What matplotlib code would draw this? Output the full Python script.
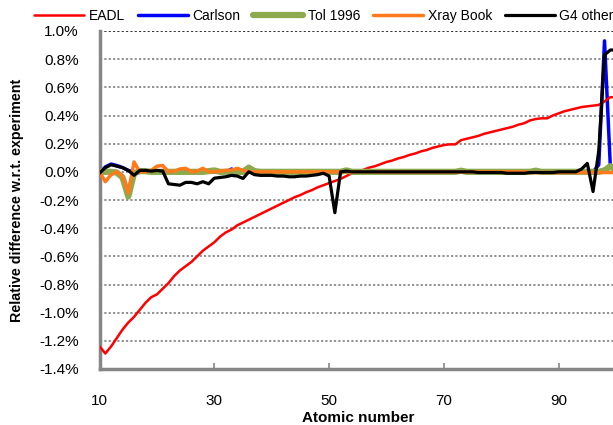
import matplotlib
matplotlib.use("Agg")
import matplotlib.pyplot as plt
from matplotlib.ticker import FixedLocator, FuncFormatter

plt.rcParams['font.family'] = ['Liberation Sans', 'DejaVu Sans']

atomic_number = list(range(10, 101))

eadl = [-1.24, -1.29, -1.24, -1.18, -1.12, -1.07, -1.03, -0.98, -0.93, -0.89,
        -0.87, -0.83, -0.79, -0.74, -0.70, -0.67, -0.64, -0.60, -0.56, -0.53,
        -0.50, -0.46, -0.43, -0.41, -0.38, -0.36, -0.34, -0.32, -0.30, -0.28,
        -0.26, -0.24, -0.22, -0.20, -0.18, -0.165, -0.145, -0.13, -0.11, -0.095,
        -0.08, -0.065, -0.05, -0.03, -0.01, 0.00, 0.015, 0.03, 0.04, 0.055,
        0.07, 0.08, 0.095, 0.105, 0.12, 0.13, 0.145, 0.155, 0.17, 0.18,
        0.19, 0.195, 0.195, 0.225, 0.235, 0.245, 0.255, 0.27, 0.28, 0.29,
        0.30, 0.31, 0.32, 0.335, 0.345, 0.365, 0.375, 0.38, 0.38, 0.40,
        0.415, 0.43, 0.44, 0.45, 0.46, 0.465, 0.47, 0.475, 0.50, 0.53,
        0.53]

carlson = [-0.01, 0.035, 0.055, 0.045, 0.03, 0.01, 0.0, 0.0, 0.0, 0.0,
           0.0, 0.0, 0.0, 0.0, 0.0, 0.0, 0.0, 0.0, 0.0, 0.0,
           0.0, 0.0, 0.0, 0.02, 0.0, 0.0, 0.0, 0.0, 0.0, 0.0,
           0.0, 0.0, 0.0, 0.0, 0.0, 0.0, 0.0, 0.0, 0.0, 0.0,
           0.0, 0.0, 0.0, 0.0, 0.0, 0.0, 0.0, 0.0, 0.0, 0.0,
           0.0, 0.0, 0.0, 0.0, 0.0, 0.0, 0.0, 0.0, 0.0, 0.0,
           0.0, 0.0, 0.0, 0.0, 0.0, 0.0, 0.0, 0.0, 0.0, 0.0,
           0.0, 0.0, 0.0, 0.0, 0.0, 0.0, 0.0, 0.0, 0.0, 0.0,
           0.0, 0.0, 0.0, 0.0, 0.0, 0.0, 0.0, 0.05, 0.93, 0.05,
           0.02]

tol1996 = [0.0, 0.0, 0.0, -0.005, -0.04, -0.175, -0.01, 0.005, 0.005, 0.0,
           0.0, 0.0, 0.0, 0.0, 0.0, 0.0, 0.0, 0.0, 0.0, 0.005,
           0.01, 0.0, 0.0, 0.0, 0.0, 0.0, 0.03, 0.005, 0.0, 0.0,
           0.0, 0.0, 0.0, 0.0, 0.0, 0.0, 0.0, 0.0, 0.0, 0.0,
           0.0, 0.0, 0.0, 0.01, 0.0, 0.0, 0.0, 0.0, 0.0, 0.0,
           0.0, 0.0, 0.0, 0.0, 0.0, 0.0, 0.0, 0.0, 0.0, 0.0,
           0.0, 0.0, 0.0, 0.008, 0.0, 0.0, 0.0, 0.0, 0.0, 0.0,
           0.0, 0.0, 0.0, 0.0, 0.0, 0.0, 0.008, 0.0, 0.0, 0.0,
           0.0, 0.0, 0.0, 0.0, 0.0, 0.0, 0.0, 0.0, 0.01, 0.04,
           0.01]

xray_book = [0.0, -0.07, -0.02, 0.0, -0.03, -0.15, 0.07, 0.0, 0.0, 0.01,
             0.04, 0.045, 0.0, 0.005, 0.02, 0.025, 0.0, 0.005, 0.025, 0.0,
             0.0, 0.005, 0.01, 0.012, 0.025, 0.01, 0.0, 0.0, 0.0, 0.0,
             0.0, 0.0, 0.0, 0.0, 0.0, 0.0, 0.0, 0.0, 0.0, 0.0,
             0.0, 0.0, 0.0, 0.0, 0.0, 0.0, 0.0, 0.0, 0.0, 0.0,
             0.0, 0.0, 0.0, 0.0, 0.0, 0.0, 0.0, 0.0, 0.0, 0.0,
             0.0, 0.0, 0.0, 0.0, 0.0, 0.0, 0.0, 0.0, 0.0, 0.0,
             0.0, 0.0, 0.0, 0.0, 0.0, -0.005, -0.005, -0.005, -0.005, -0.005,
             -0.005, -0.005, -0.005, -0.005, -0.005, -0.005, -0.005, -0.005, -0.005, -0.005,
             -0.005]

g4_other = [-0.01, 0.03, 0.05, 0.04, 0.03, 0.01, -0.025, 0.01, 0.01, 0.005,
            0.01, 0.005, -0.085, -0.09, -0.095, -0.075, -0.075, -0.085, -0.07, -0.085,
            -0.045, -0.04, -0.035, -0.025, -0.03, -0.047, 0.0, -0.02, -0.025, -0.025,
            -0.025, -0.03, -0.03, -0.035, -0.035, -0.03, -0.03, -0.025, -0.02, -0.01,
            -0.03, -0.29, 0.0, 0.005, 0.0, 0.0, 0.0, 0.0, 0.0, 0.0,
            0.0, 0.0, 0.0, 0.0, 0.0, 0.0, 0.0, 0.0, 0.0, 0.0,
            0.0, 0.0, 0.0, 0.0, 0.0, 0.0, -0.005, -0.005, -0.005, -0.005,
            -0.005, -0.01, -0.01, -0.01, -0.01, -0.005, -0.005, -0.005, -0.005, -0.005,
            0.0, 0.0, 0.0, 0.0, 0.02, 0.06, -0.14, 0.15, 0.83, 0.865,
            0.865]

series_names = ["EADL", "Carlson", "Tol 1996", "Xray Book", "G4 other"]
x_tick_values = [10, 30, 50, 70, 90]
y_tick_values = [-1.4, -1.2, -1.0, -0.8, -0.6, -0.4, -0.2, 0.0, 0.2, 0.4, 0.6, 0.8, 1.0]

W, H = 613, 425
fig = plt.figure(figsize=(W / 100, H / 100), dpi=100)
ax_left, ax_right, ax_top, ax_bottom = 99.6, 616, 31, 369
ax = fig.add_axes([ax_left / W, 1 - ax_bottom / H, (ax_right - ax_left) / W, (ax_bottom - ax_top) / H])

colors = ["#FF0000", "#0000FF", "#8DAA4F", "#FF7A1A", "#000000"]
widths = [1.8, 2.5, 4.5, 2.5, 2.3]
data = [eadl, carlson, tol1996, xray_book, g4_other]
zorders = [3, 2, 4, 5, 6]
for name, vals, c, lw, zo in zip(series_names, data, colors, widths, zorders):
    ax.plot(atomic_number, vals, color=c, lw=lw, label=name, zorder=zo,
            solid_joinstyle='round', solid_capstyle='round')

ax.set_xlim(10, 100)
ax.set_ylim(-1.4, 1.0)
ax.xaxis.set_major_locator(FixedLocator(x_tick_values))
ax.yaxis.set_major_locator(FixedLocator(y_tick_values))
ax.yaxis.set_major_formatter(FuncFormatter(lambda v, p: f"{v:.1f}%".replace("-0.0%", "0.0%")))

for v in y_tick_values[1:]:
    col = "#222222" if v == 1.0 else "#888888"
    ax.axhline(v, color=col, lw=1.3, ls=(0, (1.2, 1.2)), zorder=1)

for s in ["top", "right"]:
    ax.spines[s].set_visible(False)
for s in ["left", "bottom"]:
    ax.spines[s].set_color("#868686")
    ax.spines[s].set_linewidth(2.5)

ax.tick_params(axis='x', direction='in', length=4, width=1.2, color="#868686",
               pad=18, labelsize=11)
ax.tick_params(axis='y', length=0, pad=15, labelsize=11)

ax.set_xlabel("Atomic number", fontsize=11, fontweight='bold', labelpad=2)
ax.set_ylabel("Relative difference w.r.t. experiment", fontsize=10.3, fontweight='bold')
ax.yaxis.set_label_coords((23.5 - ax_left) / (ax_right - ax_left), 0.5)

leg = fig.legend(loc='center', bbox_to_anchor=(324 / W, 1 - 16 / H), ncol=5, frameon=False,
                 fontsize=10, handlelength=3.6, handletextpad=0.35, columnspacing=0.9,
                 borderaxespad=0)

fig.savefig("out.png", dpi=100)
